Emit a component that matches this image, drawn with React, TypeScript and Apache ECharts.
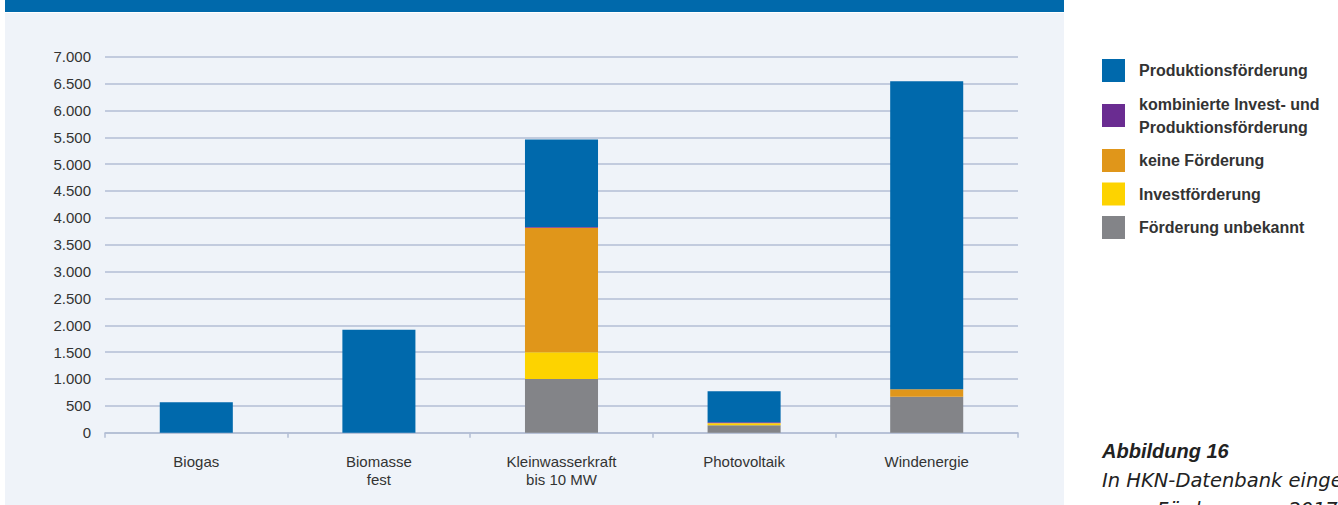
import React, { useEffect, useRef } from "react";
import * as echarts from "echarts";

const categories = ["Biogas", "Biomasse\nfest", "Kleinwasserkraft\nbis 10 MW", "Photovoltaik", "Windenergie"];
const produktion = [565, 1915, 1630, 575, 5735];
const kombiniert = [0, 0, 15, 15, 0];
const keine = [0, 0, 2315, 10, 137];
const invest = [0, 0, 500, 30, 0];
const unbekannt = [0, 0, 1000, 140, 670];
const yTicks = [0, 500, 1000, 1500, 2000, 2500, 3000, 3500, 4000, 4500, 5000, 5500, 6000, 6500, 7000];

const seriesDefs = [
  { name: "Förderung unbekannt", data: unbekannt, color: "#838488" },
  { name: "Investförderung", data: invest, color: "#fdd300" },
  { name: "keine Förderung", data: keine, color: "#e0961a" },
  { name: "kombinierte Invest- und\nProduktionsförderung", data: kombiniert, color: "#6a2c91" },
  { name: "Produktionsförderung", data: produktion, color: "#0069ac" },
];
const legendOrder = [
  "Produktionsförderung",
  "kombinierte Invest- und\nProduktionsförderung",
  "keine Förderung",
  "Investförderung",
  "Förderung unbekannt",
];

const fmt = (v: number) => {
  const s = String(Math.round(v));
  return s.replace(/\B(?=(\d{3})+(?!\d))/g, ".");
};

export default function App() {
  const ref = useRef<HTMLDivElement>(null);
  useEffect(() => {
    document.body.style.margin = "0";
    const chart = echarts.init(ref.current!, undefined, { renderer: "svg" });
    chart.setOption({
      animation: false,
      backgroundColor: "#ffffff",
      textStyle: { fontFamily: "Liberation Sans, Arial, sans-serif" },
      graphic: [
        { type: "rect", z: -10, silent: true, shape: { x: 5, y: 13, width: 1059, height: 492 }, style: { fill: "#eff3f9" } },
        { type: "rect", z: -10, silent: true, shape: { x: 5, y: 0, width: 1059, height: 12 }, style: { fill: "#0069ab" } },
        {
          type: "text", x: 1102, y: 451, silent: true,
          style: { text: "Abbildung 16", fill: "#222", font: "italic bold 20px 'Liberation Sans', Arial, sans-serif", verticalAlign: "middle" },
        },
        {
          type: "text", x: 1102, y: 480, silent: true,
          style: { text: "In HKN-Datenbank eingetra-", fill: "#222", font: "italic 19.5px 'DejaVu Sans', sans-serif", verticalAlign: "middle" },
        },
        {
          type: "text", x: 1102, y: 509, silent: true,
          style: { text: "gene Förderungen 2017", fill: "#222", font: "italic 19.5px 'DejaVu Sans', sans-serif", verticalAlign: "middle" },
        },
      ],
      legend: {
        data: legendOrder,
        orient: "vertical",
        left: 1102,
        top: 59,
        padding: 0,
        icon: "rect",
        itemWidth: 23,
        itemHeight: 23,
        itemGap: 10.5,
        selectedMode: false,
        textStyle: {
          fontSize: 16,
          fontWeight: "bold",
          color: "#333",
          lineHeight: 23,
          padding: [0, 0, 0, 9],
          fontFamily: "Liberation Sans, Arial, sans-serif",
        },
      },
      grid: { left: 105, right: 320, top: 56.7, bottom: 72.3, containLabel: false },
      xAxis: {
        type: "category",
        data: categories,
        axisLine: { show: true, lineStyle: { color: "#b3bed4", width: 1.5 } },
        axisTick: { show: true, length: 5, lineStyle: { color: "#b3bed4", width: 1.5 } },
        axisLabel: { color: "#333", fontSize: 15, lineHeight: 18, margin: 20, interval: 0 },
      },
      yAxis: {
        type: "value",
        min: yTicks[0],
        max: yTicks[yTicks.length - 1],
        interval: 500,
        axisLine: { show: false },
        axisTick: { show: false },
        splitLine: { lineStyle: { color: "#b3bed4", width: 1.5 } },
        axisLabel: { color: "#333", fontSize: 15, margin: 14, formatter: (v: number) => fmt(v) },
      },
      series: seriesDefs.map((s) => ({
        name: s.name,
        type: "bar",
        stack: "total",
        barWidth: "40%",
        data: s.data,
        itemStyle: { color: s.color },
      })),
    });
    return () => chart.dispose();
  }, []);
  return <div ref={ref} style={{ width: 1338, height: 505, position: "absolute", left: 0, top: 0 }} />;
}
